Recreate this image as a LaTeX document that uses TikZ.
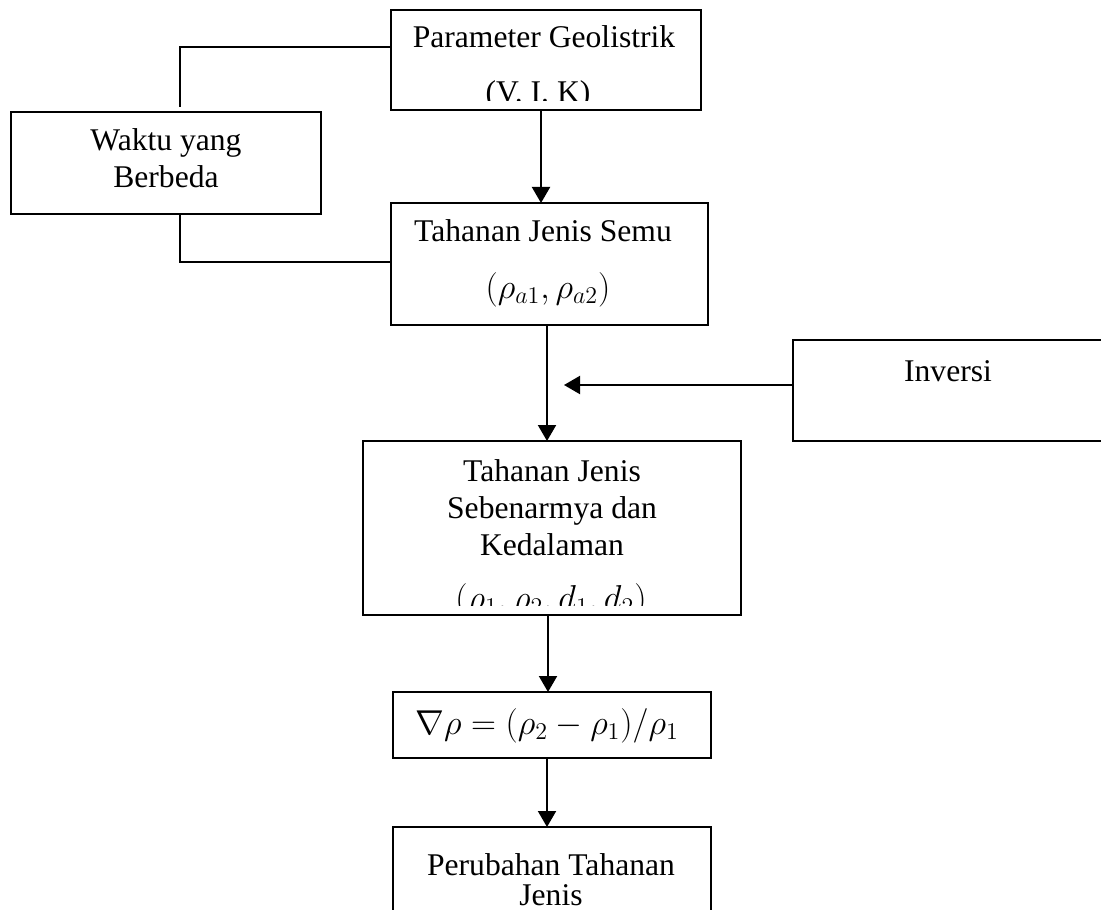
\documentclass[tikz,border=0pt]{standalone}
\usepackage{fontspec}
\setmainfont{Liberation Serif}
\usetikzlibrary{arrows.meta,calc}
\begin{document}
\begin{tikzpicture}[x=0.5pt,y=-0.5pt,
  box/.style={draw,line width=1pt,inner sep=0pt,outer sep=0pt,anchor=north west},
  txt/.style={font=\fontsize{15.8}{19.75}\selectfont,inner sep=0pt,anchor=base},
  mth/.style={font=\fontsize{17.5}{21}\selectfont,inner sep=0pt,anchor=base},
  arr/.style={line width=1pt,-{Triangle[length=8pt,width=9pt]}},
  ln/.style={line width=1pt}]
\useasboundingbox (0,0) rectangle (1101,909);
% boxes
\node[box,minimum width=155pt,minimum height=50pt] (b1) at (391,10) {};
\node[box,minimum width=155pt,minimum height=51pt] (b2) at (11,112) {};
\node[box,minimum width=158.5pt,minimum height=61pt] (b3) at (391,203) {};
\node[box,minimum width=158.5pt,minimum height=50.5pt] (inv) at (793,340) {};
\node[box,minimum width=189pt,minimum height=87pt] (b4) at (363,441) {};
\node[box,minimum width=159pt,minimum height=33pt] (b5) at (393,692) {};
\node[box,minimum width=159pt,minimum height=56.5pt] (b6) at (393,827) {};
% texts
\begin{scope}
  \clip (391,10) rectangle (701,101);
  \node[txt] (t1a) at (544,48) {Parameter Geolistrik};
  \node[txt] (t1b) at (538,103) {(V. I. K)};
\end{scope}
\node[txt] (t2a) at (166,151) {Waktu yang};
\node[txt] (t2b) at (166,188) {Berbeda};
\node[txt] (t3a) at (543,242) {Tahanan Jenis Semu};
\node[mth] (t3b) at (548,298) {$(\rho_{a1}, \rho_{a2})$};
\node[txt] (tinv) at (948,381) {Inversi};
\node[txt] (t4a) at (552,481) {Tahanan Jenis};
\node[txt] (t4b) at (552,518) {Sebenarmya dan};
\node[txt] (t4c) at (552,555) {Kedalaman};
\begin{scope}
  \clip (363,441) rectangle (741,605);
  \node[mth] (t4d) at (551,609) {$(\rho_1, \rho_2, d_1, d_2)$};
\end{scope}
\node[mth] (t5) at (547,734) {$\nabla\rho = (\rho_2 - \rho_1)/\rho_1$};
\node[txt] (t6a) at (551,875) {Perubahan Tahanan};
\node[txt] (t6b) at (551,905) {Jenis};
% connectors
\coordinate (wt) at (180,107);
\draw[ln] ([yshift=6.5pt]b1.west) -| (wt);
\draw[ln] (b2.south -| wt) |- ([yshift=1pt]b3.west);
\draw[arr] ([xshift=-2.5pt]b1.south) -- ([xshift=-2.5pt]b1.south |- b3.north);
\draw[arr] ([xshift=-1.25pt]b3.south) -- ([xshift=-1.25pt]b3.south |- b4.north);
\coordinate (invtip) at (564,385);
\draw[arr] (inv.west |- invtip) -- (invtip);
\draw[arr] ([xshift=-2pt]b4.south) -- ([xshift=-2pt]b4.south |- b5.north);
\draw[arr] ([xshift=-2.5pt]b5.south) -- ([xshift=-2.5pt]b5.south |- b6.north);
\end{tikzpicture}
\end{document}
